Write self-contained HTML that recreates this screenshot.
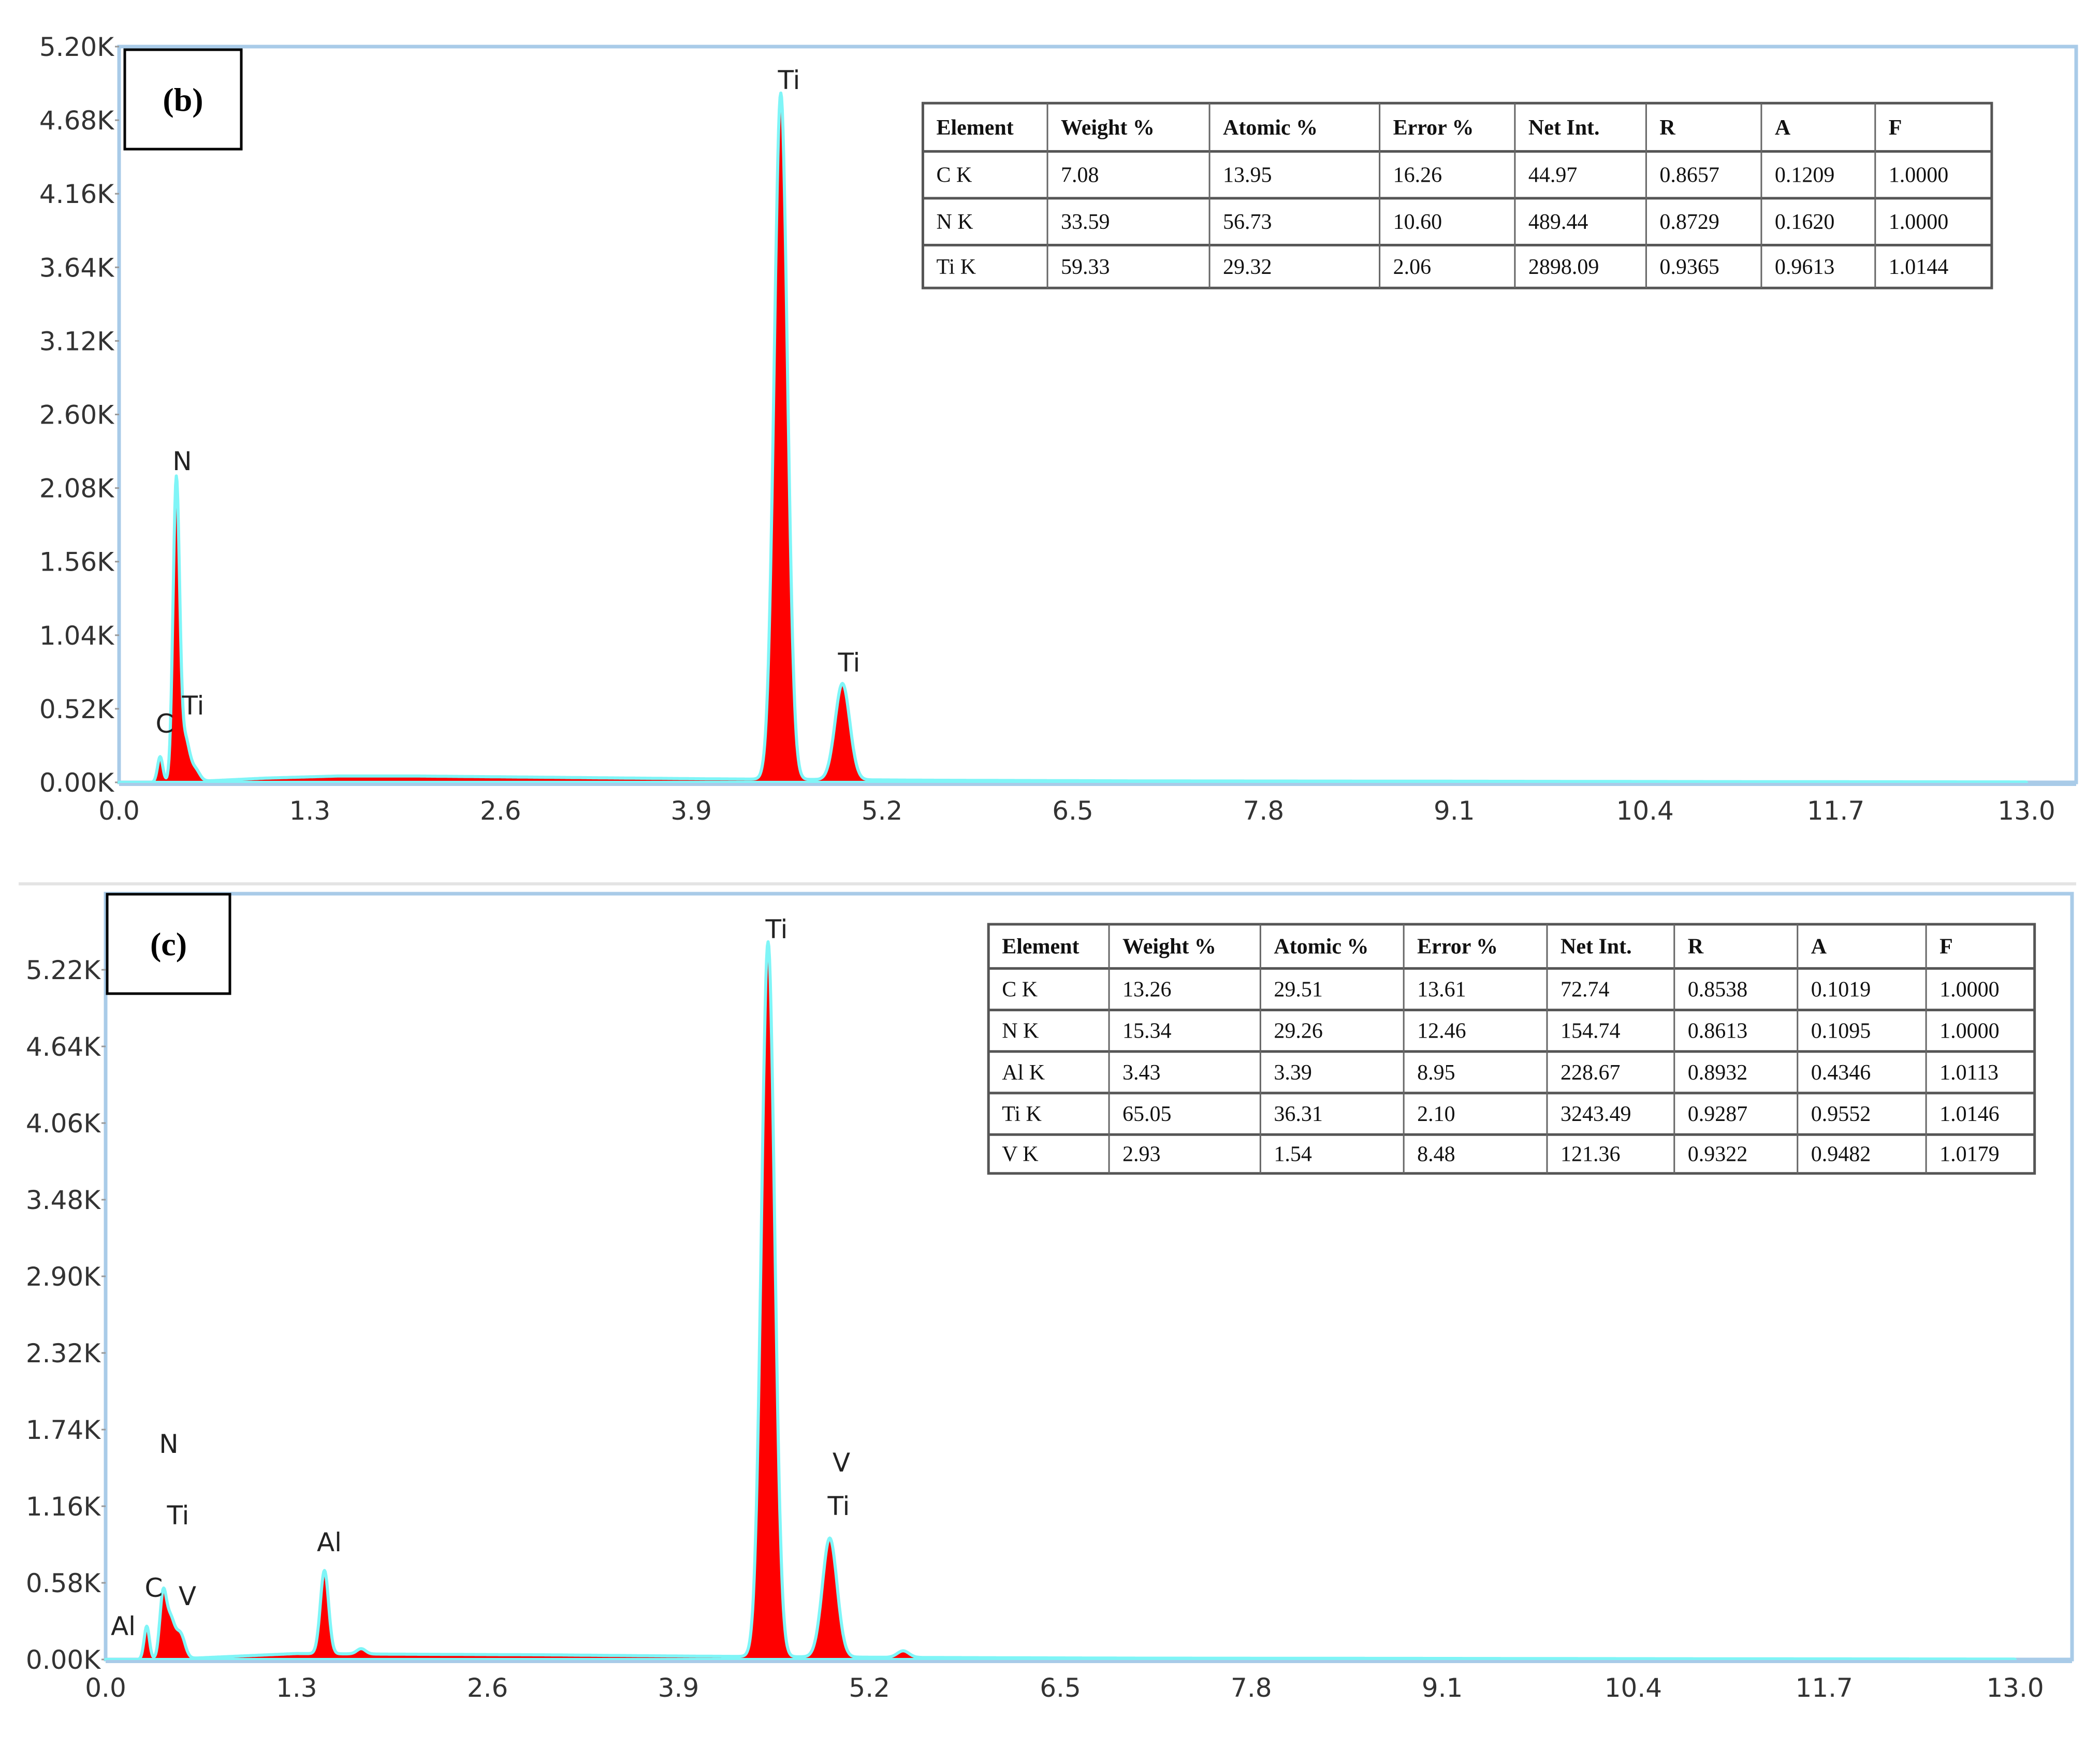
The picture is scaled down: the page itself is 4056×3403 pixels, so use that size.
<!DOCTYPE html>
<html><head><meta charset="utf-8"><style>
html,body{margin:0;padding:0;background:#fff;}
svg{display:block;}
.tick{font-family:"DejaVu Sans","Liberation Sans",sans-serif;font-size:50px;fill:#333;}
.pk{font-family:"DejaVu Sans","Liberation Sans",sans-serif;font-size:50px;fill:#222;}
.tb{font-family:"Liberation Serif",serif;font-size:42px;fill:#111;}
.tbh{font-family:"Liberation Serif",serif;font-size:42px;font-weight:bold;fill:#111;}
.lab{font-family:"Liberation Serif",serif;font-size:64px;font-weight:bold;fill:#000;}
</style></head><body>
<svg id="svg" width="4056" height="3403" viewBox="0 0 4056 3403" xmlns="http://www.w3.org/2000/svg">
<line x1="36" y1="1707" x2="4010" y2="1707" stroke="#e4e4e4" stroke-width="6"/>
<g id="pb"></g>
<g id="pc"></g>
</svg>
<script>
// ---- data ----
const xTicks = [0.0,1.3,2.6,3.9,5.2,6.5,7.8,9.1,10.4,11.7,13.0];
const bYTicks = [0,0.52,1.04,1.56,2.08,2.60,3.12,3.64,4.16,4.68,5.20];
const cYTicks = [0,0.58,1.16,1.74,2.32,2.90,3.48,4.06,4.64,5.22];
// panel b peaks (keV, counts K, sigma keV)
const bPeakE = [0.28,0.39,0.45,0.52,4.51,4.93];
const bPeakH = [0.18,2.12,0.30,0.08,4.85,0.68];
const bPeakW = [0.018,0.022,0.03,0.03,0.045,0.05];
// background continuum samples
const bBgE = [0.0,0.2,0.6,1.0,1.5,2.0,3.0,4.0,5.5,7,9,11,13];
const bBgV = [0,0,0.01,0.03,0.045,0.045,0.035,0.025,0.015,0.01,0.008,0.005,0.003];
// panel c
const cPeakE = [0.28,0.39,0.44,0.51,1.49,1.74,4.51,4.93,5.43];
const cPeakH = [0.25,0.45,0.30,0.18,0.63,0.04,5.41,0.90,0.05];
const cPeakW = [0.018,0.022,0.03,0.03,0.028,0.03,0.045,0.05,0.04];
const cBgE = [0.0,0.2,0.6,1.0,1.3,2.0,3.0,4.0,5.5,7,9,11,13];
const cBgV = [0,0,0.01,0.03,0.045,0.04,0.035,0.025,0.015,0.01,0.008,0.005,0.003];
const bHeader = ["Element","Weight %","Atomic %","Error %","Net Int.","R","A","F"];
const bRows = [["C K","7.08","13.95","16.26","44.97","0.8657","0.1209","1.0000"],
 ["N K","33.59","56.73","10.60","489.44","0.8729","0.1620","1.0000"],
 ["Ti K","59.33","29.32","2.06","2898.09","0.9365","0.9613","1.0144"]];
const cRows = [["C K","13.26","29.51","13.61","72.74","0.8538","0.1019","1.0000"],
 ["N K","15.34","29.26","12.46","154.74","0.8613","0.1095","1.0000"],
 ["Al K","3.43","3.39","8.95","228.67","0.8932","0.4346","1.0113"],
 ["Ti K","65.05","36.31","2.10","3243.49","0.9287","0.9552","1.0146"],
 ["V K","2.93","1.54","8.48","121.36","0.9322","0.9482","1.0179"]];
const bLabels = [["Ti",1524,172],["N",352,908],["C",318,1415],["Ti",373,1380],["Ti",1640,1297]];
const cLabels = [["Ti",1500,1812],["V",1625,2842],["Ti",1620,2926],["N",326,2806],["Ti",344,2944],["Al",636,2996],["C",297,3084],["V",362,3100],["Al",238,3158]];

const NS="http://www.w3.org/2000/svg";
function mk(parent,tag,attrs,text){const e=document.createElementNS(NS,tag);for(const k in attrs)e.setAttribute(k,attrs[k]);if(text!==undefined)e.textContent=text;parent.appendChild(e);return e;}

function interp(xs,ys,x){for(let i=0;i<xs.length-1;i++){if(x>=xs[i]&&x<=xs[i+1]){return ys[i]+(ys[i+1]-ys[i])*(x-xs[i])/(xs[i+1]-xs[i]);}}return 0;}

function panel(g,cfg){
  const X=e=>cfg.x0+(e/13)*(cfg.x1-cfg.x0);
  const Y=v=>cfg.y0-(v/cfg.yStep)*cfg.yPx;
  const fr=mk(g,'rect',{x:cfg.x0,y:cfg.top,width:cfg.right-cfg.x0,height:cfg.y0-cfg.top,fill:'none',stroke:'#a9cbe8','stroke-width':7});
  
  
  cfg.yTicks.forEach(v=>{
    const t=mk(g,'text',{x:cfg.x0-10,y:Y(v)+18,'text-anchor':'end',class:'tick'},v.toFixed(2)+'K');
    
    
    mk(g,'line',{x1:cfg.x0-8,x2:cfg.x0,y1:Y(v),y2:Y(v),stroke:'#999','stroke-width':3});
  });
  xTicks.forEach(v=>{
    const t=mk(g,'text',{x:X(v),y:cfg.y0+72,'text-anchor':'middle',class:'tick'},v.toFixed(1));
    
    
  });
  let d='M'+X(0)+' '+Y(0);
  for(let e=0;e<=13.0001;e+=0.005){
    let v=interp(cfg.bgE,cfg.bgV,e);
    for(let i=0;i<cfg.pE.length;i++){const z=(e-cfg.pE[i])/cfg.pW[i];v+=cfg.pH[i]*Math.exp(-0.5*z*z);}
    d+=' L'+X(e).toFixed(1)+' '+Y(v).toFixed(1);
  }
  d+=' L'+X(13)+' '+Y(0)+' Z';
  const sp=mk(g,'path',{d:d,fill:'#ff0000',stroke:'#7ff5f7','stroke-width':6,'stroke-linejoin':'round'});
  
  
  mk(g,'line',{x1:cfg.x0,x2:cfg.right,y1:cfg.y0+4,y2:cfg.y0+4,stroke:'#a9cbe8','stroke-width':6});
  cfg.labels.forEach(l=>{
    const t=mk(g,'text',{x:l[1],y:l[2],'text-anchor':'middle',class:'pk'},l[0]);
    
    
  });
  const bx=mk(g,'rect',{x:cfg.box[0],y:cfg.box[1],width:cfg.box[2],height:cfg.box[3],fill:'#fff',stroke:'#000','stroke-width':5});
  
  
  const bt=mk(g,'text',{x:cfg.box[0]+cfg.box[2]/2,y:cfg.box[1]+cfg.box[3]/2+22,'text-anchor':'middle',class:'lab'},cfg.tag);
  
  
  const cols=cfg.cols, rows=cfg.rowsY, all=[bHeader].concat(cfg.rows);
  const tg=mk(g,'g',{});
  
  
  mk(tg,'rect',{x:cols[0],y:rows[0],width:cols[cols.length-1]-cols[0],height:rows[rows.length-1]-rows[0],fill:'#fff',stroke:'#555','stroke-width':5});
  rows.slice(1,-1).forEach(y=>mk(tg,'line',{x1:cols[0],x2:cols[cols.length-1],y1:y,y2:y,stroke:'#555','stroke-width':5}));
  cols.slice(1,-1).forEach(x=>mk(tg,'line',{x1:x,x2:x,y1:rows[0],y2:rows[rows.length-1],stroke:'#666','stroke-width':3}));
  all.forEach((r,ri)=>r.forEach((c,ci)=>{
    const t=mk(tg,'text',{x:cols[ci]+26,y:(rows[ri]+rows[ri+1])/2+14,class:ri===0?'tbh':'tb'},c);
    
    
  }));
}
const s=2.587;
panel(document.getElementById('pb'),{x0:230,x1:3914,right:4010,top:90,y0:1511,yStep:0.52,yPx:142.1,yTicks:bYTicks,
  bgE:bBgE,bgV:bBgV,pE:bPeakE,pH:bPeakH,pW:bPeakW,labels:bLabels,box:[241,96,225,192],tag:'(b)',
  cols:[689,782,903,1030,1131,1229,1315,1400,1487].map(v=>v*s),rowsY:[77,113,148,183,215].map(v=>v*s),rows:bRows});
panel(document.getElementById('pc'),{x0:204,x1:3892,right:4002,top:1726,y0:3205,yStep:0.58,yPx:148,yTicks:cYTicks,
  bgE:cBgE,bgV:cBgV,pE:cPeakE,pH:cPeakH,pW:cPeakW,labels:cLabels,box:[207,1727,237,192],tag:'(c)',
  cols:[738,828,941,1048,1155,1250,1342,1438,1519].map(v=>v*s),rowsY:[690,723,754,785,816,847,876].map(v=>v*s),rows:cRows});
</script>
</body></html>
